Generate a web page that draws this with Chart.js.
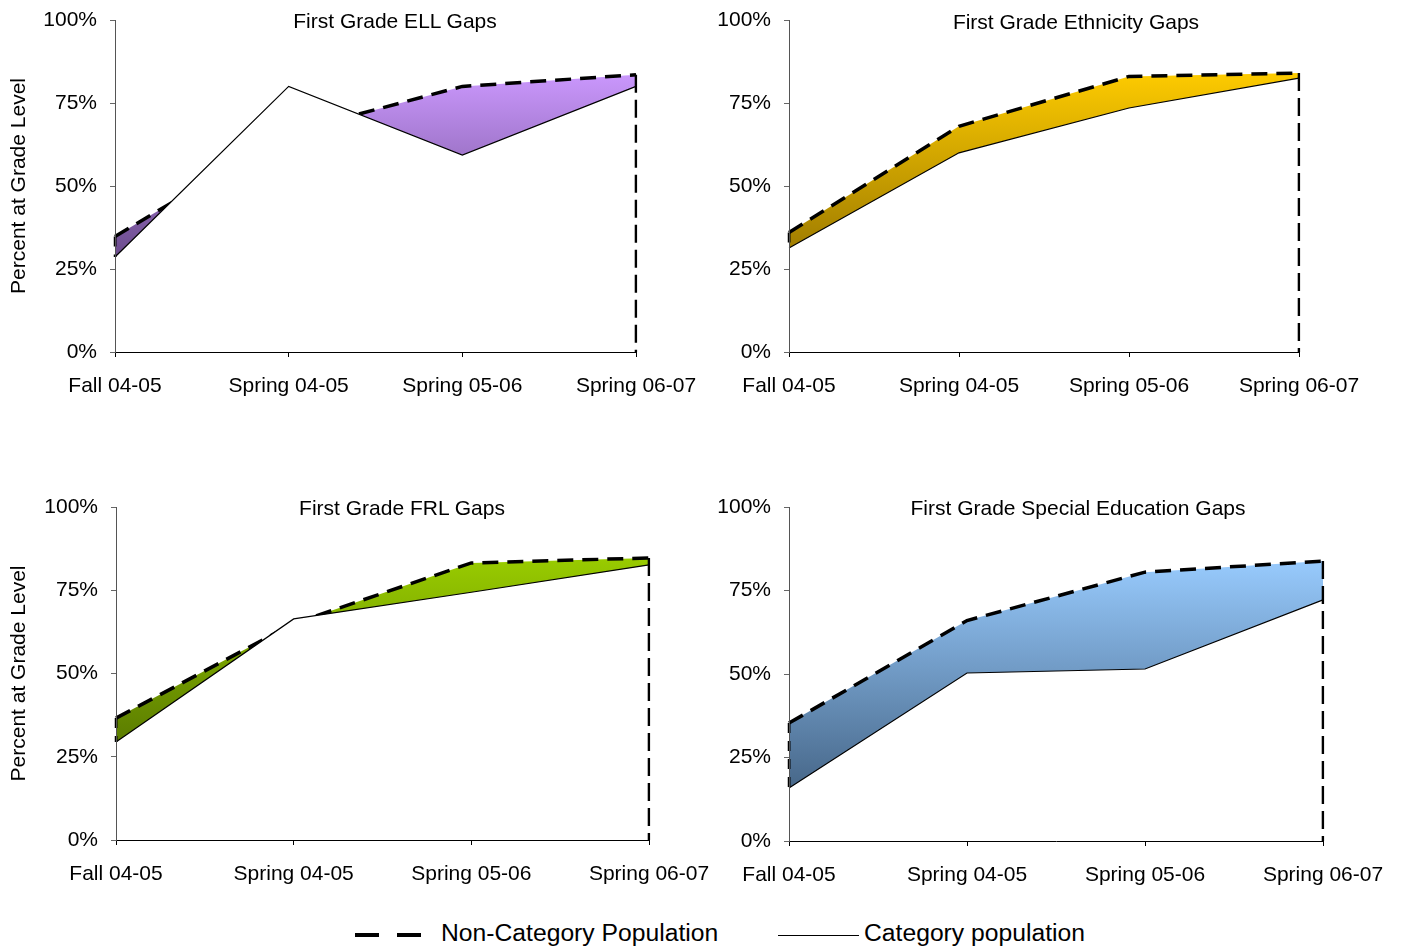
<!DOCTYPE html>
<html>
<head>
<meta charset="utf-8">
<script src="https://cdn.jsdelivr.net/npm/chart.js@4.4.1/dist/chart.umd.min.js"></script>
<style>
  html, body { margin:0; padding:0; background:#fff; }
  body { width:1405px; height:946px; position:relative; overflow:hidden; font-family:'Liberation Sans', Arial, sans-serif; }
  canvas { position:absolute; }
  .ttl { position:absolute; font-size:21px; line-height:25px; color:#000; white-space:nowrap; transform:translateX(-50%); }
  .leg { position:absolute; font-size:24.7px; line-height:28px; color:#000; white-space:nowrap; }
</style>
</head>
<body>
<canvas id="cA" width="705" height="410" style="left:0px;top:0px;"></canvas>
<canvas id="cB" width="700" height="410" style="left:705px;top:0px;"></canvas>
<canvas id="cC" width="720" height="430" style="left:0px;top:470px;"></canvas>
<canvas id="cD" width="700" height="430" style="left:705px;top:470px;"></canvas>

<div class="ttl" style="left:395px;top:8px;">First Grade ELL Gaps</div>
<div class="ttl" style="left:1076px;top:9px;">First Grade Ethnicity Gaps</div>
<div class="ttl" style="left:402px;top:495px;">First Grade FRL Gaps</div>
<div class="ttl" style="left:1078px;top:495px;">First Grade Special Education Gaps</div>

<svg style="position:absolute;left:350px;top:925px;" width="80" height="20">
  <line x1="5" y1="10" x2="75" y2="10" stroke="#000" stroke-width="4" stroke-dasharray="24,18"/>
</svg>
<div class="leg" style="left:441px;top:919px;">Non-Category Population</div>
<svg style="position:absolute;left:775px;top:925px;" width="90" height="20">
  <line x1="3" y1="10.5" x2="84" y2="10.5" stroke="#000" stroke-width="1"/>
</svg>
<div class="leg" style="left:864px;top:919px;">Category population</div>

<script>
// ---- data ----
const categories = ['Fall 04-05', 'Spring 04-05', 'Spring 05-06', 'Spring 06-07'];
const yTickLabels = ['0%', '25%', '50%', '75%', '100%'];

const ellNonCat = [34.8, 66, 80, 83.5];
const ellCat    = [28.6, 80, 59.3, 80];

const ethNonCat = [36, 68, 83, 84];
const ethCat    = [31.3, 60, 73.5, 82.5];

const frlNonCat = [36.6, 65, 83.2, 84.7];
const frlCat    = [29.4, 66.4, 74.4, 82.6];

const speNonCat = [35.3, 66, 80.5, 83.8];
const speCat    = [15.9, 50.3, 51.5, 72.2];

const seriesNames = ['Non-Category Population', 'Category population'];

// ---- styling ----
const FONT = { family: "'Liberation Sans', Arial, sans-serif", size: 21 };
const DASH = [16, 9];
const DASH_W = 3.5;

function gradientFill(topColor, bottomColor) {
  return (ctx) => {
    const chart = ctx.chart;
    const a = chart.chartArea;
    if (!a) return topColor;
    const ys = chart.scales.y;
    const gTop = ys.getPixelForValue(85);
    const gBot = ys.getPixelForValue(0);
    const g = chart.ctx.createLinearGradient(0, gTop, 0, gBot);
    g.addColorStop(0, topColor);
    g.addColorStop(1, bottomColor);
    return g;
  };
}

function makeChart(id, nonCat, cat, colors, opt) {
  const last = categories[categories.length - 1];
  const first = categories[0];
  return new Chart(document.getElementById(id), {
    type: 'line',
    data: {
      labels: categories,
      datasets: [
        {
          label: 'edges',
          data: [{x: last, y: nonCat[nonCat.length - 1]}, {x: last, y: 0}],
          borderColor: '#000', borderWidth: 2.6, borderDash: [18, 7],
          pointRadius: 0, fill: false, order: 0
        },
        {
          label: 'edgeL',
          data: [{x: first, y: nonCat[0]}, {x: first, y: cat[0]}],
          borderColor: '#000', borderWidth: 3, borderDash: [10, 8],
          pointRadius: 0, fill: false, order: 0
        },
        {
          label: seriesNames[1],
          data: cat,
          borderColor: '#000', borderWidth: 1.2,
          backgroundColor: '#ffffff',
          fill: 'origin', pointRadius: 0, tension: 0, order: 1
        },
        {
          label: seriesNames[0],
          data: nonCat,
          borderColor: '#000', borderWidth: DASH_W, borderDash: DASH,
          backgroundColor: gradientFill(colors[0], colors[1]),
          fill: 'origin', pointRadius: 0, tension: 0, order: 2
        }
      ]
    },
    options: {
      responsive: false,
      animation: false,
      devicePixelRatio: 1,
      layout: { padding: { top: opt.padTop, right: opt.padRight, left: 0, bottom: 0 } },
      plugins: { legend: { display: false }, tooltip: { enabled: false }, title: { display: false } },
      scales: {
        x: {
          type: 'category',
          offset: false,
          ticks: { font: FONT, color: '#000', padding: 17, maxRotation: 0, autoSkip: false },
          grid: { drawOnChartArea: false, drawTicks: true, tickLength: 5, tickColor: '#000', offset: false, z: 1 },
          border: { display: true, color: '#000', width: 1, z: 1 },
          afterFit: (s) => { s.height = opt.xH; s.paddingLeft = 0; s.paddingRight = 0; }
        },
        y: {
          min: 0, max: 100,
          ticks: { stepSize: 25, font: FONT, color: '#000', padding: 13,
                   callback: (v, i) => yTickLabels[i] },
          grid: { drawOnChartArea: false, drawTicks: true, tickLength: 5, tickColor: '#666', z: 1 },
          border: { display: true, color: '#555', width: 1, z: 1 },
          title: { display: opt.yTitle, text: 'Percent at Grade Level', font: FONT, color: '#000', padding: { top: 7, bottom: 0 } },
          afterFit: (s) => { s.width = opt.yW; s.paddingTop = 0; s.paddingBottom = 0; }
        }
      }
    }
  });
}

makeChart('cA', ellNonCat, ellCat, ['#cc99ff', '#3a2452'],
  { padTop: 20, padRight: 69, xH: 58, yW: 115, yTitle: true });
makeChart('cB', ethNonCat, ethCat, ['#ffcc00', '#6a5000'],
  { padTop: 20, padRight: 106, xH: 58, yW: 84, yTitle: false });
makeChart('cC', frlNonCat, frlCat, ['#99cc00', '#3a5200'],
  { padTop: 37, padRight: 71, xH: 60, yW: 116, yTitle: true });
makeChart('cD', speNonCat, speCat, ['#99ccff', '#34506e'],
  { padTop: 37, padRight: 82, xH: 59, yW: 84, yTitle: false });
</script>
</body>
</html>
